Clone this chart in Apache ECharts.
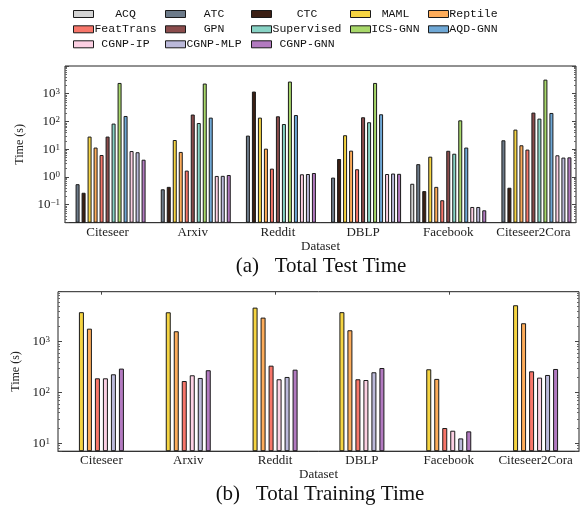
<!DOCTYPE html>
<html><head><meta charset="utf-8">
<script src="https://cdn.jsdelivr.net/npm/echarts@6/dist/echarts.min.js"></script>
<style>html,body{margin:0;padding:0;background:#fff}#c{width:584px;height:508px}</style>
</head><body><div id="c"></div>
<script>
const datasets = ['Citeseer','Arxiv','Reddit','DBLP','Facebook','Citeseer2Cora'];
const methods = ['ACQ','ATC','CTC','MAML','Reptile','FeatTrans','GPN','Supervised','ICS-GNN','AQD-GNN','CGNP-IP','CGNP-MLP','CGNP-GNN'];
const methodColors = ['#d3d3d3','#6c7a89','#3b1f14','#f5d442','#fdac5a','#f7766a','#8b4c4c','#88d3c5','#a8d86a','#6fa8d6','#fcd0e3','#bbb9da','#b27ac0'];

// (a) Total test time (s), per dataset
const testACQ        = [null, null, null, null, 0.57, null];
const testATC        = [0.55, 0.36, 31, 0.95, 2.9, 21];
const testCTC        = [0.27, 0.44, 1200, 4.45, 0.31, 0.41];
const testMAML       = [28.6, 21.5, 138, 32, 5.4, 51];
const testReptile    = [11.5, 8, 10.5, 8.9, 0.44, 13.9];
const testFeatTrans  = [6.2, 1.7, 2.0, 1.9, 0.145, 9.7];
const testGPN        = [28.6, 178, 154, 142, 8.8, 209];
const testSupervised = [84, 88, 81, 94, 6.9, 127];
const testICSGNN     = [2450, 2330, 2750, 2450, 110, 3230];
const testAQDGNN     = [158, 138, 171, 182, 11.5, 203];
const testCGNPIP     = [8.6, 1.09, 1.25, 1.28, 0.083, 6.05];
const testCGNPMLP    = [7.8, 1.1, 1.28, 1.33, 0.083, 5.0];
const testCGNPGNN    = [4.2, 1.18, 1.39, 1.3, 0.063, 5.1];

// (b) Total training time (s)
const trainMethods   = ['MAML','Reptile','FeatTrans','CGNP-IP','CGNP-MLP','CGNP-GNN'];
const trainMAML      = [3800, 3780, 4670, 3800, 286, 5200];
const trainReptile   = [1800, 1600, 2970, 1675, 185, 2300];
const trainFeatTrans = [190, 168, 337, 182, 20, 261];
const trainCGNPIP    = [190, 218, 182, 176, 17.7, 196];
const trainCGNPMLP   = [228, 193, 202, 250, 12.5, 221];
const trainCGNPGNN   = [295, 274, 281, 303, 17.2, 290];

const testData = [testACQ,testATC,testCTC,testMAML,testReptile,testFeatTrans,testGPN,testSupervised,testICSGNN,testAQDGNN,testCGNPIP,testCGNPMLP,testCGNPGNN];
const trainData = [trainMAML,trainReptile,trainFeatTrans,trainCGNPIP,trainCGNPMLP,trainCGNPGNN];

const SERIF = 'Liberation Serif';
const MONO = 'Liberation Mono';
const colorOf = n => methodColors[methods.indexOf(n)];

function logFmt(maxExp){
  return function(v){
    const e = Math.log10(v), r = Math.round(e);
    if (Math.abs(e - r) > 1e-6 || r > maxExp) return '';
    return '{b|10}{s|' + (r < 0 ? '\u2212' + (-r) : r) + '}';
  };
}
const supRich = {
  b: {fontFamily: SERIF, fontSize: 13, color: '#222'},
  s: {fontFamily: SERIF, fontSize: 9, color: '#222', verticalAlign: 'top'}
};

function yAxisCfg(grid, min, max, maxExp, right, nameGap, margin){
  const c = {
    type: 'log', logBase: 10, gridIndex: grid, min: min, max: max, startValue: min,
    position: right ? 'right' : 'left',
    axisLine: {show: false},
    axisTick: {show: true, inside: true, length: 4, lineStyle: {color: '#444'}},
    minorTick: {show: true, splitNumber: 9, length: 2, lineStyle: {color: '#666'}},
    splitLine: {show: false}, minorSplitLine: {show: false},
    axisLabel: right ? {show: false} : {formatter: logFmt(maxExp), rich: supRich, margin: margin}
  };
  if (!right) {
    c.name = 'Time (s)'; c.nameLocation = 'middle'; c.nameGap = nameGap;
    c.nameTextStyle = {fontFamily: SERIF, fontSize: 12, color: '#222'};
  }
  return c;
}
function xAxisCfg(grid, nameGap){
  return {
    type: 'category', gridIndex: grid, data: datasets,
    name: 'Dataset', nameLocation: 'middle', nameGap: nameGap,
    nameTextStyle: {fontFamily: SERIF, fontSize: 13, color: '#222'},
    axisLine: {show: true, lineStyle: {color: '#333', width: 1}},
    axisTick: {show: false},
    axisLabel: {interval: 0, fontFamily: SERIF, fontSize: 13, color: '#222', margin: 3}
  };
}

const series = [];
methods.forEach((m, i) => {
  series.push({
    type: 'bar', name: m, xAxisIndex: 0, yAxisIndex: 0, data: testData[i],
    barWidth: 4, barGap: '50%',
    itemStyle: {color: methodColors[i], borderColor: '#1a1a1a', borderWidth: 1}
  });
});
trainMethods.forEach((m, i) => {
  series.push({
    type: 'bar', name: m, xAxisIndex: 1, yAxisIndex: 2, data: trainData[i],
    barWidth: 5, barGap: '60%',
    itemStyle: {color: colorOf(m), borderColor: '#1a1a1a', borderWidth: 1}
  });
});

// legend: 3 rows x 5 columns, text centered in monospace columns
const colLeft = [73, 165, 251, 350, 428];
const colTextW = [54, 47, 61, 40, 40];
const rowCenter = [15, 30.3, 45.3];
const legends = methods.map((m, i) => {
  const r = Math.floor(i / 5), c = i % 5;
  return {
    data: [m], left: colLeft[c], top: rowCenter[r] - 7, padding: 0,
    icon: 'rect', itemWidth: 20, itemHeight: 7,
    itemStyle: {borderColor: '#1a1a1a', borderWidth: 1},
    selectedMode: false,
    formatter: '{c|{name}}',
    textStyle: {rich: {c: {width: colTextW[c], align: 'center', fontFamily: MONO, fontSize: 11.5, color: '#111', lineHeight: 14}}}
  };
});

const option = {
  animation: false,
  backgroundColor: '#fff',
  title: [
    {text: '(a)   Total Test Time', left: 321, top: 256, textAlign: 'center', padding: 0,
     textStyle: {fontFamily: SERIF, fontSize: 21, fontWeight: 'normal', color: '#111'}},
    {text: '(b)   Total Training Time', left: 320, top: 484, textAlign: 'center', padding: 0,
     textStyle: {fontFamily: SERIF, fontSize: 21, fontWeight: 'normal', color: '#111'}}
  ],
  legend: legends,
  grid: [
    {left: 65, top: 66, width: 511, height: 156.7, show: true, borderColor: '#222', borderWidth: 1},
    {left: 58, top: 291.7, width: 521, height: 159.5, show: true, borderColor: '#222', borderWidth: 1}
  ],
  xAxis: [
    xAxisCfg(0, 12),
    xAxisCfg(1, 14),
    {type: 'category', gridIndex: 1, position: 'top', data: datasets,
     axisLine: {show: false}, axisLabel: {show: false},
     axisTick: {show: true, inside: true, alignWithLabel: true, length: 3, lineStyle: {color: '#444'}}}
  ],
  yAxis: [
    yAxisCfg(0, 0.0225, 10000, 3, false, 39, 5),
    yAxisCfg(0, 0.0225, 10000, 3, true),
    yAxisCfg(1, 7.0, 9600, 3, false, 32, 8),
    yAxisCfg(1, 7.0, 9600, 3, true)
  ],
  series: series
};
const chart = echarts.init(document.getElementById('c'), null, {renderer: 'canvas'});
chart.setOption(option);
</script></body></html>
